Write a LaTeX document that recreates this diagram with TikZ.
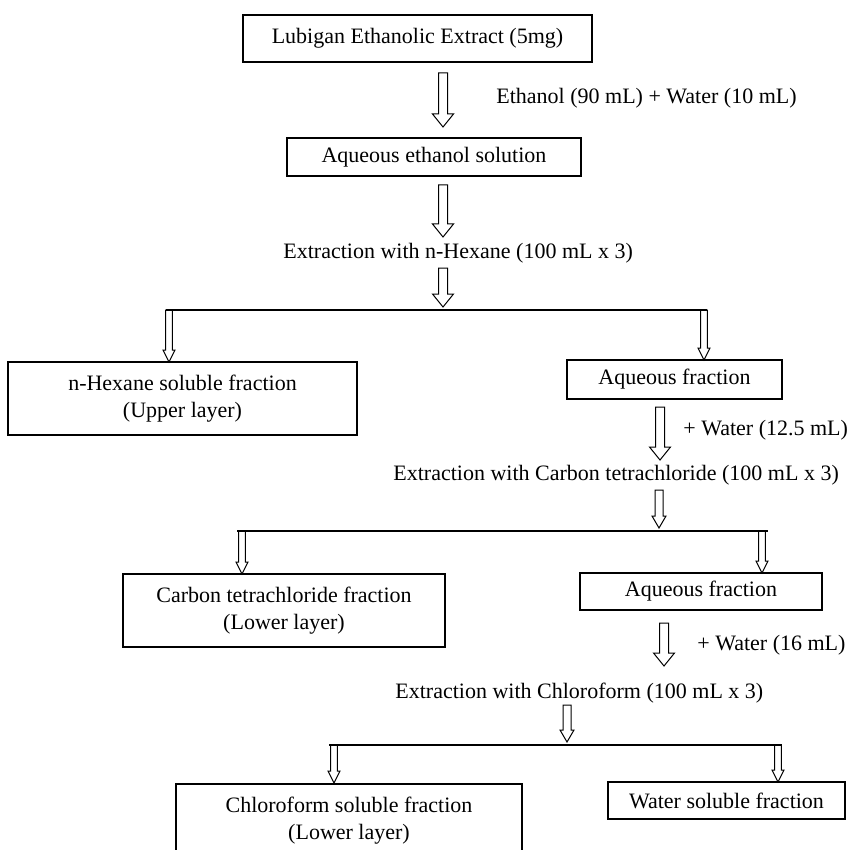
\documentclass[tikz,border=0pt]{standalone}
\usepackage{fontspec}
\setmainfont{Liberation Serif}
\usetikzlibrary{calc}
\begin{document}
\begin{tikzpicture}[x=0.5pt,y=-0.5pt,font=\fontsize{11}{13.5}\selectfont,
  box/.style={draw,line width=0.6pt,align=center,inner sep=0pt},
  hollow/.style n args={3}{line width=0.5pt,to path={
    ($(\tikztostart)+(-#1,0)$) -- ($(\tikztotarget)+(-#1,-#3)$)
    -- ($(\tikztotarget)+(-#2,-#3)$) -- (\tikztotarget)
    -- ($(\tikztotarget)+(#2,-#3)$) -- ($(\tikztotarget)+(#1,-#3)$)
    -- ($(\tikztostart)+(#1,0)$) -- cycle}},
  bigarrow/.style={hollow={4.5}{10.5}{13}},
  midarrow/.style={hollow={4}{7}{12}},
  thinarrow/.style={hollow={3.3}{6}{12}}]
\useasboundingbox (0,0) rectangle (861,850);
\clip (0,0) rectangle (861,850);
% boxes
\node[box,minimum width=174.5pt,minimum height=23.5pt] (ext) at (417.5,38.5) {Lubigan Ethanolic Extract (5mg)};
\node[box,minimum width=147pt,minimum height=19pt] (aqeth) at (434,157) {Aqueous ethanol solution};
\node[box,minimum width=174.5pt,minimum height=36.5pt] (hex) at (182.5,398.5) {n-Hexane soluble fraction\\(Upper layer)};
\node[box,minimum width=107.5pt,minimum height=19.5pt] (aqa) at (674.5,379.5) {Aqueous fraction};
\node[box,minimum width=161pt,minimum height=36.5pt] (ccl) at (284,610.5) {Carbon tetrachloride fraction\\(Lower layer)};
\node[box,minimum width=121pt,minimum height=18.5pt] (aqb) at (701,591.5) {Aqueous fraction};
\node[box,minimum width=173pt,minimum height=36.5pt] (chl) at (349,820.5) {Chloroform soluble fraction\\(Lower layer)};
\node[box,minimum width=118.5pt,minimum height=18.5pt] (wat) at (726.5,800.5) {Water soluble fraction};
% labels
\node[anchor=west,inner sep=0pt] (eth) at (496,98) {Ethanol (90 mL) + Water (10 mL)};
\node[anchor=west,inner sep=0pt] (exhex) at (283,253) {Extraction with n-Hexane (100 mL x 3)};
\node[anchor=west,inner sep=0pt] (wa) at (683,430) {+ Water (12.5 mL)};
\node[anchor=west,inner sep=0pt] (exccl) at (393,475) {Extraction with Carbon tetrachloride (100 mL x 3)};
\node[anchor=west,inner sep=0pt] (wb) at (697,645) {+ Water (16 mL)};
\node[anchor=west,inner sep=0pt] (exchl) at (395,693) {Extraction with Chloroform (100 mL x 3)};
% arrow ends
\coordinate (a1s) at (443,73);  \coordinate (a1e) at (443,127);
\coordinate (a2s) at (443,185); \coordinate (a2e) at (443,237);
\coordinate (a3s) at (443,268); \coordinate (a3e) at (443,307);
\coordinate (s1l) at (169,310); \coordinate (s1r) at (704,310);
\coordinate (h1l) at (169,362); \coordinate (h1r) at (704,360);
\coordinate (a5s) at (660,407); \coordinate (a5e) at (660,460);
\coordinate (a6s) at (659,490); \coordinate (a6e) at (659,528);
\coordinate (s2l) at (242,531); \coordinate (s2r) at (762,531);
\coordinate (h2l) at (242,574); \coordinate (h2r) at (762,573);
\coordinate (a8s) at (664,623); \coordinate (a8e) at (664,666);
\coordinate (a9s) at (567,705); \coordinate (a9e) at (567,742);
\coordinate (s3l) at (334,745); \coordinate (s3r) at (778,745);
\coordinate (h3l) at (334,783); \coordinate (h3r) at (778,782);
% arrows
\draw[bigarrow] (a1s) to (a1e);
\draw[bigarrow] (a2s) to (a2e);
\draw[bigarrow] (a3s) to (a3e);
\draw[line width=0.6pt] ([xshift=-1.65pt]s1l) -- ([xshift=1.65pt]s1r);
\draw[thinarrow] (s1l) to (h1l);
\draw[thinarrow] (s1r) to (h1r);
\draw[bigarrow] (a5s) to (a5e);
\draw[midarrow] (a6s) to (a6e);
\draw[line width=0.6pt] ([xshift=-2.5pt]s2l) -- ([xshift=3pt]s2r);
\draw[thinarrow] (s2l) to (h2l);
\draw[thinarrow] (s2r) to (h2r);
\draw[bigarrow] (a8s) to (a8e);
\draw[midarrow] (a9s) to (a9e);
\draw[line width=0.6pt] ([xshift=-2.5pt]s3l) -- ([xshift=2pt]s3r);
\draw[thinarrow] (s3l) to (h3l);
\draw[thinarrow] (s3r) to (h3r);
\end{tikzpicture}
\end{document}
